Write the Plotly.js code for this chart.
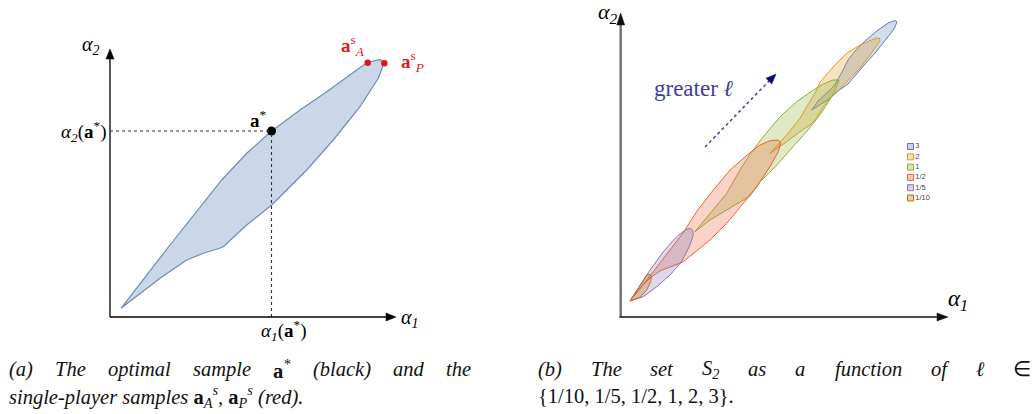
<!DOCTYPE html>
<html><head><meta charset="utf-8">
<script src="https://cdn.plot.ly/plotly-3.0.1.min.js"></script>
<style>html,body{margin:0;padding:0;background:#fff}</style>
</head><body>
<div id="chart" style="width:1035px;height:414px"></div>
<script>
// ---------------- DATA ----------------
// Panel (a): boundary of the feasible region (alpha1, alpha2)
const regionAlpha1 = [11, 60, 111.7, 136.7, 161.7, 190, 216.7, 240, 256.7, 270, 274, 268.3, 250, 223.3, 196.7, 161.7, 136.7, 113.3, 108.3, 93.3, 76.7, 50, 30, 11];
const regionAlpha2 = [8.7, 72, 137, 163.7, 186, 207, 225.3, 242, 254.3, 257.7, 253.7, 238.7, 210.3, 177, 147, 112, 92, 70.3, 68.3, 63.7, 57, 38.7, 23.7, 8.7];
// optimal sample a*
const optimalAlpha1 = [161.5];
const optimalAlpha2 = [186];
// single-player samples a_A^s, a_P^s
const singleAlpha1 = [257.7, 274.3];
const singleAlpha2 = [254.3, 253.7];

// Panel (b): the set S2 for each ell
const ellLabels = ['3', '2', '1', '1/2', '1/5', '1/10'];
const set3Alpha1 = [189.7, 196, 204, 212, 220, 226, 234, 244, 256, 266, 273, 275, 272, 264, 254, 244, 235, 226, 216, 207, 199, 189.7];
const set3Alpha2 = [207, 216, 223.5, 231, 245, 257, 267, 277, 287, 294, 296.5, 295, 288, 278, 265, 254, 243, 233, 226, 218, 213, 207];
const set2Alpha1 = [148, 164.7, 178, 188, 194.7, 198, 211.3, 224.7, 238, 251.3, 257.3, 258, 255.3, 248, 238, 224.7, 211.3, 201.3, 194.7, 188, 178, 164.7, 148];
const set2Alpha2 = [163.7, 182, 198.7, 215.3, 227, 235, 250.3, 263.7, 272, 277.7, 279, 277, 272, 262, 249, 235, 222, 210.3, 199, 192, 185.3, 175.3, 163.7];
const set1Alpha1 = [73, 88, 104.7, 118, 128, 141.3, 158, 174.7, 191.3, 201.3, 211, 217, 214, 210, 200, 186, 170, 153, 138, 128, 118, 104.7, 88, 73];
const set1Alpha2 = [85.3, 103.7, 123.7, 147, 163, 180.3, 200.3, 215.3, 227, 233, 237, 237, 229, 221, 205, 187, 169, 150, 135, 121, 115, 107, 97, 85.3];
const setHalfAlpha1 = [10, 16, 24, 31, 38, 48, 55, 61, 68, 75, 91.3, 108, 126.3, 138, 148, 156.3, 158.7, 156.3, 148, 134.7, 121.3, 104.7, 88, 71.3, 61, 48, 38, 28, 21, 16, 10];
const setHalfAlpha2 = [19, 26, 36, 45, 54, 67, 76, 84, 95, 106, 127, 147, 163, 172, 176.3, 177, 173.7, 165.3, 150.3, 130.3, 113.7, 93.7, 77, 63.7, 55, 50, 46, 39, 32, 25.5, 19];
const setFifthAlpha1 = [8, 18, 28, 41.3, 54.7, 63, 68, 70.7, 71.3, 68, 59.7, 48, 34.7, 21.3, 8];
const setFifthAlpha2 = [16, 32, 47, 65.3, 80.3, 87, 88.7, 87, 82, 72, 55.3, 42, 30.3, 20.3, 16];
const setTenthAlpha1 = [8, 16.3, 21.3, 24.7, 28, 29.3, 28.7, 24.7, 18, 8];
const setTenthAlpha2 = [16, 28.7, 37, 42, 42.7, 40.3, 35.3, 27, 19.7, 16];

// caption words
const captionA1 = ['(a)', 'The', 'optimal', 'sample', 'A*', '(black)', 'and', 'the'];
const captionB1 = ['(b)', 'The', 'set', 'S2', 'as', 'a', 'function', 'of', 'ℓ', '∈'];

// ---------------- DRAWING ----------------
const W = 1035, H = 414;
const fx = x => x / W, fy = y => 1 - y / H;
const ellColors = ['#5E81B5', '#E19C24', '#8FB032', '#EB6235', '#8778B3', '#C56E1A'];
function rgba(hex, a) {
  const n = parseInt(hex.slice(1), 16);
  return `rgba(${(n >> 16) & 255},${(n >> 8) & 255},${n & 255},${a})`;
}
const SERIF = 'Liberation Serif';

const traces = [];
traces.push({x: regionAlpha1, y: regionAlpha2, xaxis: 'x', yaxis: 'y', mode: 'lines', fill: 'toself',
  fillcolor: '#cad7e9', line: {color: '#6f8bb3', width: 1.2}, hoverinfo: 'skip', showlegend: false});
traces.push({x: optimalAlpha1, y: optimalAlpha2, xaxis: 'x', yaxis: 'y', mode: 'markers',
  marker: {color: '#000', size: 9}, hoverinfo: 'skip', showlegend: false});
traces.push({x: singleAlpha1, y: singleAlpha2, xaxis: 'x', yaxis: 'y', mode: 'markers',
  marker: {color: '#e5141b', size: 6.5}, hoverinfo: 'skip', showlegend: false});

const sets = [[set3Alpha1, set3Alpha2], [set2Alpha1, set2Alpha2], [set1Alpha1, set1Alpha2],
  [setHalfAlpha1, setHalfAlpha2], [setFifthAlpha1, setFifthAlpha2], [setTenthAlpha1, setTenthAlpha2]];
sets.forEach((s, i) => {
  traces.push({x: s[0], y: s[1], xaxis: 'x2', yaxis: 'y2', mode: 'lines', fill: 'toself',
    fillcolor: rgba(ellColors[i], 0.28), line: {color: ellColors[i], width: 1},
    name: ellLabels[i], hoverinfo: 'skip', showlegend: false});
});
// small legend drawn on a pixel overlay axis
traces.push({x: ellLabels.map(() => 910.5), y: ellLabels.map((_, i) => 146.5 + i * 10.3),
  xaxis: 'x3', yaxis: 'y3', mode: 'markers+text', text: ellLabels, textposition: 'middle right',
  textfont: {family: 'Liberation Sans', size: 7.5, color: '#444'},
  marker: {symbol: 'square', size: 6, color: ellColors.map(c => rgba(c, 0.35)),
    line: {color: ellColors, width: 1}}, hoverinfo: 'skip', showlegend: false});

const hidden = {visible: false, showgrid: false, zeroline: false, fixedrange: true};
const layout = {
  width: W, height: H, margin: {l: 0, r: 0, t: 0, b: 0},
  paper_bgcolor: '#fff', plot_bgcolor: 'rgba(0,0,0,0)', showlegend: false,
  xaxis: Object.assign({domain: [0, 0.5], range: [-110, 0.5 * W - 110], anchor: 'y'}, hidden),
  yaxis: Object.assign({domain: [0, 1], range: [317 - H, 317], anchor: 'x'}, hidden),
  xaxis2: Object.assign({domain: [0.5, 1], range: [0.5 * W - 622, W - 622], anchor: 'y2'}, hidden),
  yaxis2: Object.assign({domain: [0, 1], range: [317 - H, 317], anchor: 'x2'}, hidden),
  xaxis3: Object.assign({domain: [0, 1], range: [0, W], anchor: 'y3'}, hidden),
  yaxis3: Object.assign({domain: [0, 1], range: [H, 0], anchor: 'x3'}, hidden),
  shapes: [], annotations: []
};
const S = layout.shapes, A = layout.annotations;

// dotted guide lines to a*
S.push({type: 'line', xref: 'x', yref: 'y', x0: 0, y0: optimalAlpha2[0], x1: optimalAlpha1[0], y1: optimalAlpha2[0],
  line: {color: '#333', width: 1.1, dash: 'dot'}});
S.push({type: 'line', xref: 'x', yref: 'y', x0: optimalAlpha1[0], y0: 0, x1: optimalAlpha1[0], y1: optimalAlpha2[0],
  line: {color: '#333', width: 1.1, dash: 'dot'}});

// axis arrows: line as shape, head as small filled triangle path
function axisLine(xr, yr, x0, y0, x1, y1, color, width) {
  S.push({type: 'line', xref: xr, yref: yr, x0: x0, y0: y0, x1: x1, y1: y1, line: {color: color, width: width}});
}
function head(xr, yr, x, y, dir, len, half, color) {
  let p;
  if (dir === 'up') p = `M${-half},${-len} L0,0 L${half},${-len} Z`;
  else p = `M${-len},${-half} L0,0 L${-len},${half} Z`;
  S.push({type: 'path', xref: xr, yref: yr, xsizemode: 'pixel', ysizemode: 'pixel', xanchor: x, yanchor: y,
    path: p, fillcolor: color, line: {color: color, width: 0.5}});
}
// panel (a) axes
axisLine('x', 'y', 0, 0, 0, 262, '#000', 1.3);
head('x', 'y', 0, 268, 'up', 10, 4, '#000');
axisLine('x', 'y', 0, 0, 280, 0, '#000', 1.3);
head('x', 'y', 286, 0, 'right', 10, 4, '#000');
// panel (b) axes
axisLine('x2', 'y2', -1.3, 0, -1.3, 294, '#6e6e6e', 2.4);
head('x2', 'y2', -1.3, 304, 'up', 12, 4, '#111');
axisLine('x2', 'y2', -2.5, 0, 318, 0, '#111', 1.3);
head('x2', 'y2', 326, 0, 'right', 11, 4, '#111');
// greater ell arrow
S.push({type: 'line', xref: 'x2', yref: 'y2', x0: 83, y0: 170, x1: 148, y1: 237, line: {color: '#4747a8', width: 1.6, dash: 'dot'}});
S.push({type: 'path', xref: 'x2', yref: 'y2', xsizemode: 'pixel', ysizemode: 'pixel', xanchor: 154, yanchor: 243,
  path: 'M0,0 L-4.2,-10 L-10,-4.2 Z', fillcolor: '#0a0a78', line: {color: '#0a0a78', width: 0.5}});

function label(text, x, y, opts) {
  A.push(Object.assign({xref: 'paper', yref: 'paper', x: fx(x), y: fy(y), text: text, showarrow: false,
    xanchor: 'center', yanchor: 'middle', font: {family: SERIF, size: 19, color: '#000'}}, opts || {}));
}
const ital = (size, color) => ({family: SERIF, size: size, color: color || '#000', style: 'italic'});
// panel (a) labels
label('α<sub>2</sub>', 91, 45, {font: ital(20)});
label('α<sub>1</sub>', 399, 318, {xanchor: 'left', font: ital(20)});
A.push({xref: 'paper', yref: 'y', x: fx(108), y: optimalAlpha2[0], xanchor: 'right', yanchor: 'middle', showarrow: false,
  text: 'α<sub>2</sub><span style="font-style:normal">(<b>a</b><sup>*</sup>)</span>', font: ital(19)});
A.push({xref: 'x', yref: 'paper', x: optimalAlpha1[0], y: fy(330), xanchor: 'center', xshift: 12, yanchor: 'middle', showarrow: false,
  text: 'α<sub>1</sub><span style="font-style:normal">(<b>a</b><sup>*</sup>)</span>', font: ital(19)});
A.push({xref: 'x', yref: 'y', x: optimalAlpha1[0], y: optimalAlpha2[0], xshift: -13, yshift: 12, showarrow: false,
  text: '<b>a</b><sup>*</sup>', font: {family: SERIF, size: 19, color: '#000'}});
A.push({xref: 'x', yref: 'y', x: singleAlpha1[0], y: singleAlpha2[0], xshift: -15, yshift: 17, showarrow: false,
  text: '<b>a</b><sup>s</sup><sub><i>A</i></sub>', font: {family: SERIF, size: 19, color: '#e5141b'}});
A.push({xref: 'x', yref: 'y', x: singleAlpha1[1], y: singleAlpha2[1], xshift: 28, yshift: 2, showarrow: false,
  text: '<b>a</b><sup>s</sup><sub><i>P</i></sub>', font: {family: SERIF, size: 19, color: '#e5141b'}});
// panel (b) labels
label('α<sub>2</sub>', 608, 13, {font: ital(22)});
label('α<sub>1</sub>', 958, 300, {font: ital(23)});
label('greater <i>ℓ</i>', 694, 88, {font: {family: SERIF, size: 23, color: '#3c3ca0'}});

// captions (justified first lines)
const ctx = document.createElement('canvas').getContext('2d');
function tw(s, size, style) { ctx.font = style + ' ' + size + 'px "' + SERIF + '"'; return ctx.measureText(s).width; }
const CAP = 20.5;
const CAP_Y1 = 369, CAP_Y2 = 396;
function justify(words, texts, widths, x0, x1, y) {
  const total = widths.reduce((a, b) => a + b, 0);
  const gap = (x1 - x0 - total) / (words.length - 1);
  let x = x0;
  words.forEach((w, i) => {
    label(texts[i], x, y, {xanchor: 'left', font: ital(CAP, '#111'), borderpad: 0});
    x += widths[i] + gap;
  });
}
const boldA = '<span style="font-style:normal"><b>a</b></span>';
const textsA1 = captionA1.map(w => w === 'A*' ? boldA + '<sup>*</sup>' : w);
const widthsA1 = captionA1.map(w => w === 'A*' ? tw('a', CAP, 'bold') + tw('*', 14, 'normal') : tw(w, CAP, 'italic'));
justify(captionA1, textsA1, widthsA1, 8, 470, CAP_Y1);
label('single-player samples ' + boldA + '<sub>A</sub><sup>s</sup>, ' + boldA + '<sub>P</sub><sup>s</sup> (red).',
  8, CAP_Y2, {xanchor: 'left', font: ital(CAP, '#111'), borderpad: 0});
const textsB1 = captionB1.map(w => w === 'S2' ? '<i>S</i><sub>2</sub>' : (w === '∈' ? '<span style="font-style:normal">∈</span>' : w));
const widthsB1 = captionB1.map(w => w === 'S2' ? tw('S', CAP, 'italic') + tw('2', 14, 'normal') : tw(w, CAP, 'italic'));
justify(captionB1, textsB1, widthsB1, 537, 1030, CAP_Y1);
label('<span style="font-style:normal">{1/10, 1/5, 1/2, 1, 2, 3}.</span>', 537, CAP_Y2,
  {xanchor: 'left', font: ital(CAP, '#111'), borderpad: 0});

Plotly.newPlot('chart', traces, layout, {staticPlot: true, displayModeBar: false});
</script>
</body></html>
